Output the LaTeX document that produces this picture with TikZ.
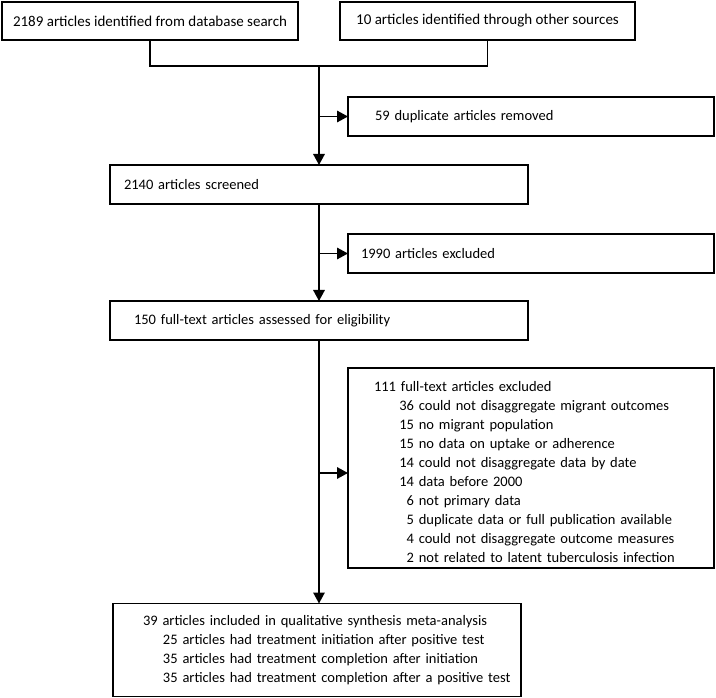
\documentclass[tikz,border=0pt]{standalone}
\usepackage{fontspec}
\setmainfont{Carlito}
\usetikzlibrary{arrows.meta}
\begin{document}
\begin{tikzpicture}[x=1pt,y=-1pt,
  box/.style={draw, line width=1.6pt, inner ysep=0pt, outer sep=0pt, font=\fontsize{14.5}{19}\selectfont},
  lbox/.style={box, align=left},
  conn/.style={line width=1.6pt},
  arr/.style={conn, -{Triangle[length=11pt,width=11.5pt]}}]
\useasboundingbox (0,0) rectangle (716,698);
% boxes
\node[box, font=\fontsize{15}{19}\selectfont, minimum width=296pt, minimum height=38pt] (A) at (150,21) {2189 articles identified from database search};
\node[box, font=\fontsize{15}{19}\selectfont, minimum width=295pt, minimum height=38pt] (B) at (487.5,21) {10 articles identified through other sources};
\node[lbox, text width=312pt, inner xsep=27pt, minimum height=39pt] (D) at (531,116.5) {59 duplicate articles removed};
\node[lbox, text width=390pt, inner xsep=14pt, minimum height=39pt] (C) at (319,184.5) {2140 articles screened};
\node[lbox, text width=340pt, inner xsep=13pt, minimum height=39pt] (E) at (531,253.5) {1990 articles excluded};
\node[lbox, text width=370pt, inner xsep=24pt, minimum height=39pt] (F) at (319,320.5) {150 full-text articles assessed for eligibility};
\node[lbox, text width=314pt, inner xsep=26pt, minimum height=200pt] (G) at (531,468) {\rule{0pt}{19pt}111 full-text articles excluded\\
\makebox[40pt][r]{36} could not disaggregate migrant outcomes\\
\makebox[40pt][r]{15} no migrant population\\
\makebox[40pt][r]{15} no data on uptake or adherence\\
\makebox[40pt][r]{14} could not disaggregate data by date\\
\makebox[40pt][r]{14} data before 2000\\
\makebox[40pt][r]{6} not primary data\\
\makebox[40pt][r]{5} duplicate data or full publication available\\
\makebox[40pt][r]{4} could not disaggregate outcome measures\\
\makebox[40pt][r]{2} not related to latent tuberculosis infection};
\node[lbox, text width=378pt, inner xsep=15pt, minimum height=93pt] (H) at (317,650) {%
\mbox{\hspace*{15pt}39 articles included in qualitative synthesis meta-analysis}\\
\mbox{\hspace*{35pt}25 articles had treatment initiation after positive test}\\
\mbox{\hspace*{35pt}35 articles had treatment completion after initiation}\\
\mbox{\hspace*{35pt}35 articles had treatment completion after a positive test}};
% connectors
\coordinate (m) at (319,66);
\coordinate (g) at (319,473);
\draw[conn] (A.south) |- (m) -| (B.south);
\draw[arr] (m) -- (C.north);
\draw[arr] (D.west -| m) -- (D.west);
\draw[arr] (E.west -| C.south) -- (E.west);
\draw[arr] (C.south) -- (F.north);
\draw[arr] (g) -- (g -| G.west);
\draw[arr] (F.south) -- (F.south |- H.north);
\end{tikzpicture}
\end{document}
